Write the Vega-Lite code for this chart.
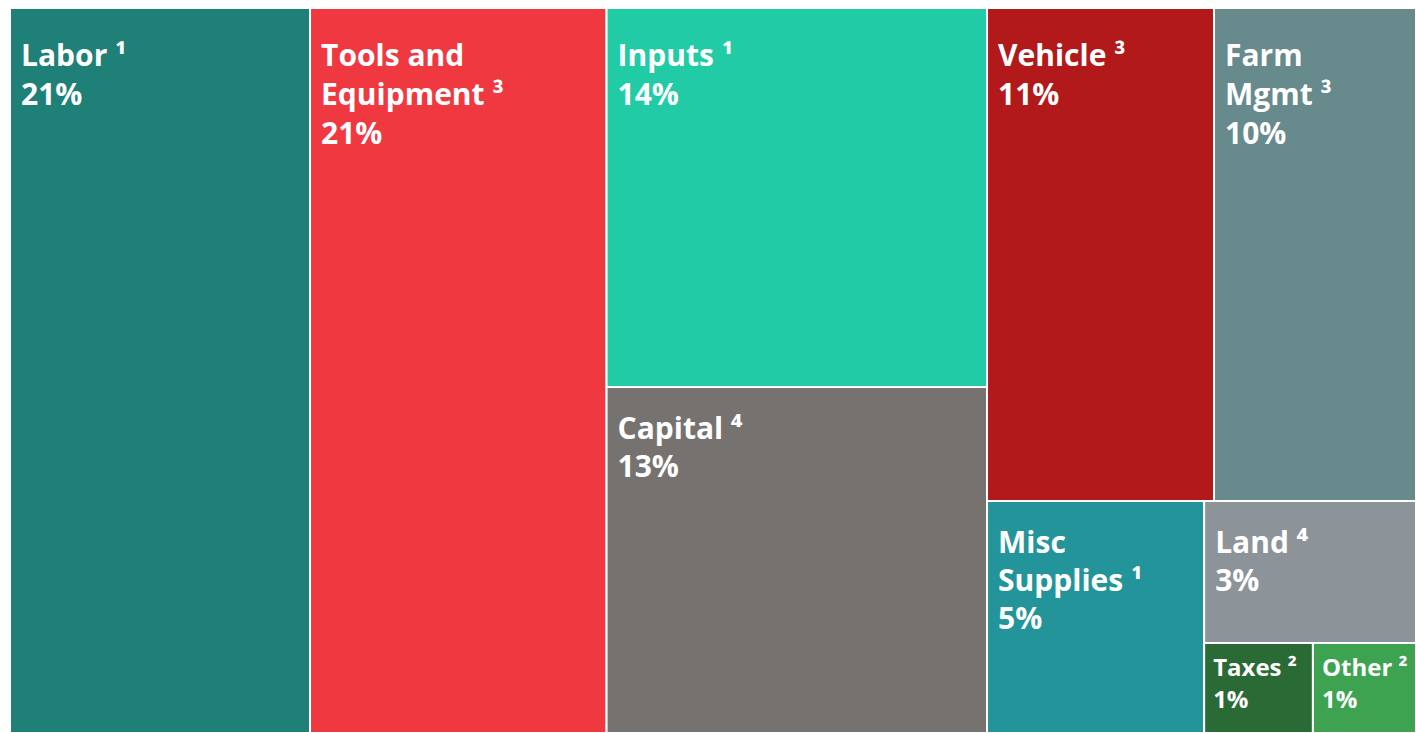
{
  "$schema": "https://vega.github.io/schema/vega-lite/v6.json",
  "width": 1406,
  "height": 725,
  "autosize": {"type": "none"},
  "padding": {"left": 10, "top": 8, "right": 0, "bottom": 0},
  "background": "white",
  "config": {"view": {"stroke": null}},
  "data": {
    "values": [
      {"name": "Labor", "value": 21.34, "note": 1, "g1": "Labor", "g2": "Labor", "g3": "Labor", "g4": "Labor"},
      {"name": "Tools and\nEquipment", "value": 21.09, "note": 3, "g1": "Tools", "g2": "Tools", "g3": "Tools", "g4": "Tools"},
      {"name": "Inputs", "value": 14.15, "note": 1, "g1": "C", "g2": "Inputs", "g3": "Inputs", "g4": "Inputs"},
      {"name": "Capital", "value": 12.91, "note": 4, "g1": "C", "g2": "Capital", "g3": "Capital", "g4": "Capital"},
      {"name": "Vehicle", "value": 10.98, "note": 3, "g1": "D", "g2": "D1", "g3": "Vehicle", "g4": "Vehicle"},
      {"name": "Farm\nMgmt", "value": 9.77, "note": 3, "g1": "D", "g2": "D1", "g3": "Farm", "g4": "Farm"},
      {"name": "Misc\nSupplies", "value": 4.94, "note": 1, "g1": "D", "g2": "D2", "g3": "Misc", "g4": "Misc"},
      {"name": "Land", "value": 2.95, "note": 4, "g1": "D", "g2": "D2", "g3": "D2b", "g4": "Land"},
      {"name": "Taxes", "value": 0.96, "note": 2, "g1": "D", "g2": "D2", "g3": "D2b", "g4": "D2b2"},
      {"name": "Other", "value": 0.91, "note": 2, "g1": "D", "g2": "D2", "g3": "D2b", "g4": "D2b2"}
    ]
  },
  "transform": [
    {"stack": "value", "groupby": [], "sort": [{"field": "value", "order": "descending"}], "offset": "normalize", "as": ["s1", "e1"]},
    {"joinaggregate": [{"op": "min", "field": "s1", "as": "x1a"}, {"op": "max", "field": "e1", "as": "x1b"}], "groupby": ["g1"]},
    {"stack": "value", "groupby": ["g1"], "sort": [{"field": "value", "order": "descending"}], "offset": "normalize", "as": ["s2", "e2"]},
    {"joinaggregate": [{"op": "min", "field": "s2", "as": "y2a"}, {"op": "max", "field": "e2", "as": "y2b"}], "groupby": ["g2"]},
    {"stack": "value", "groupby": ["g2"], "sort": [{"field": "value", "order": "descending"}], "offset": "normalize", "as": ["s3", "e3"]},
    {"joinaggregate": [{"op": "min", "field": "s3", "as": "x3a"}, {"op": "max", "field": "e3", "as": "x3b"}], "groupby": ["g3"]},
    {"stack": "value", "groupby": ["g3"], "sort": [{"field": "value", "order": "descending"}], "offset": "normalize", "as": ["s4", "e4"]},
    {"joinaggregate": [{"op": "min", "field": "s4", "as": "y4a"}, {"op": "max", "field": "e4", "as": "y4b"}], "groupby": ["g4"]},
    {"stack": "value", "groupby": ["g4"], "sort": [{"field": "value", "order": "descending"}], "offset": "normalize", "as": ["x5a", "x5b"]},
    {"calculate": "datum.x1a + (datum.x1b - datum.x1a) * (datum.x3a + (datum.x3b - datum.x3a) * datum.x5a)", "as": "xs"},
    {"calculate": "datum.x1a + (datum.x1b - datum.x1a) * (datum.x3a + (datum.x3b - datum.x3a) * datum.x5b)", "as": "xe"},
    {"calculate": "datum.y2a + (datum.y2b - datum.y2a) * datum.y4a", "as": "ys"},
    {"calculate": "datum.y2a + (datum.y2b - datum.y2a) * datum.y4b", "as": "ye"},
    {"calculate": "datum.name + ' ' + ['', '¹', '²', '³', '⁴'][datum.note] + '\\n' + format(datum.value, '.0f') + '%'", "as": "label"}
  ],
  "encoding": {
    "x": {"field": "xs", "type": "quantitative", "scale": {"domain": [0, 1], "nice": false, "zero": false}, "axis": null},
    "y": {"field": "ys", "type": "quantitative", "scale": {"domain": [0, 1], "nice": false, "zero": false, "reverse": true}, "axis": null}
  },
  "layer": [
    {
      "mark": {"type": "rect", "stroke": "white", "strokeWidth": 2, "opacity": 1},
      "encoding": {
        "x2": {"field": "xe"},
        "y2": {"field": "ye"},
        "color": {
          "field": "name",
          "type": "nominal",
          "scale": {
            "domain": ["Labor", "Tools and\nEquipment", "Inputs", "Capital", "Vehicle", "Farm\nMgmt", "Misc\nSupplies", "Land", "Taxes", "Other"],
            "range": ["#1F8078", "#EF3840", "#21CBA5", "#767270", "#B2191A", "#678A8C", "#23959A", "#8C9399", "#2A6B35", "#3DA351"]
          },
          "legend": null
        }
      }
    },
    {
      "transform": [{"filter": "datum.value >= 2 && datum.ys < 0.001"}],
      "mark": {"type": "text", "align": "left", "baseline": "alphabetic", "dx": 11, "dy": 58, "font": "Open Sans", "fontWeight": "bold", "fontSize": 30, "lineHeight": 39, "lineBreak": "\n", "color": "white"},
      "encoding": {"text": {"field": "label"}}
    },
    {
      "transform": [{"filter": "datum.value >= 2 && datum.ys >= 0.001"}],
      "mark": {"type": "text", "align": "left", "baseline": "alphabetic", "dx": 11, "dy": 52, "font": "Open Sans", "fontWeight": "bold", "fontSize": 30, "lineHeight": 38, "lineBreak": "\n", "color": "white"},
      "encoding": {"text": {"field": "label"}}
    },
    {
      "transform": [{"filter": "datum.value < 2"}],
      "mark": {"type": "text", "align": "left", "baseline": "alphabetic", "dx": 9, "dy": 33, "font": "Open Sans", "fontWeight": "bold", "fontSize": 24, "lineHeight": 32, "lineBreak": "\n", "color": "white"},
      "encoding": {"text": {"field": "label"}}
    }
  ]
}
